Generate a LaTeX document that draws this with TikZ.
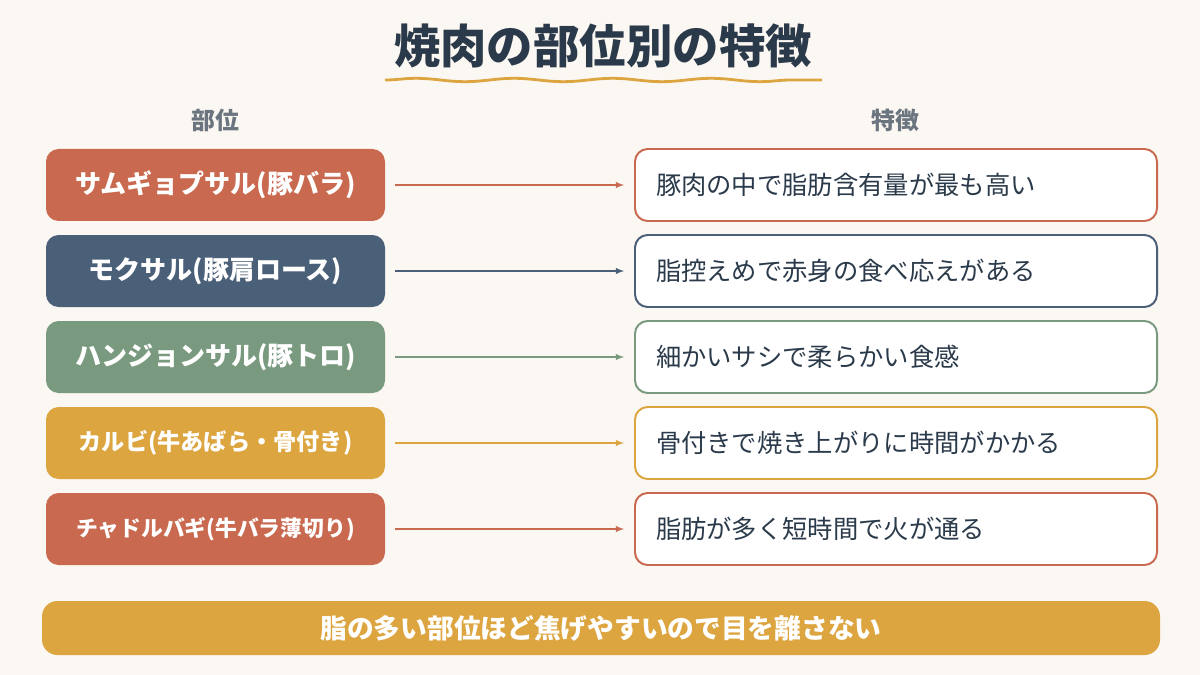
\documentclass[tikz,border=0pt]{standalone}
\usepackage{fontspec}
\setmainfont{Noto Sans CJK JP}
\usetikzlibrary{decorations.pathmorphing}
\definecolor{bgc}{HTML}{FBF7F2}
\definecolor{navy}{HTML}{2B3A4A}
\definecolor{graytx}{HTML}{6B7580}
\definecolor{rust}{HTML}{C96A50}
\definecolor{slate}{HTML}{4A5F78}
\definecolor{sage}{HTML}{7A9A80}
\definecolor{mustard}{HTML}{DDA540}
\tikzset{
	part/.style={rounded corners=9pt, minimum width=339*0.025cm, minimum height=72*0.025cm, text=white, font=\bfseries\fontsize{18.5}{22}\selectfont},
	feat/.style={draw=#1, line width=1.4pt, fill=white, rounded corners=9pt, minimum width=522*0.025cm, minimum height=72*0.025cm, text width=480*0.025cm, align=left, text=navy, font=\fontsize{18}{21}\selectfont},
	link/.style={draw=#1, line width=1pt, -latex}
}
\begin{document}
\begin{tikzpicture}[x=0.025cm, y=-0.025cm]
	\fill[bgc] (0,0) rectangle (1200,675);

	\node[text=navy, font=\bfseries\fontsize{33}{38}\selectfont] (title) at (603,46) {焼肉の部位別の特徴};
	\coordinate (u1) at (385,80);
	\coordinate (u2) at (822,80);
	\draw[mustard, line width=2pt, decorate, decoration={snake, amplitude=1.2pt, segment length=70pt}] (u1) -- (u2);

	\node[text=graytx, font=\bfseries\fontsize{17}{20}\selectfont] (h1) at (215,120) {部位};
	\node[text=graytx, font=\bfseries\fontsize{17}{20}\selectfont] (h2) at (895,120) {特徴};

	\node[part, fill=rust] (p1) at (215.5,185) {サムギョプサル(豚バラ)};
	\node[part, fill=slate] (p2) at (215.5,271) {モクサル(豚肩ロース)};
	\node[part, fill=sage] (p3) at (215.5,357) {ハンジョンサル(豚トロ)};
	\node[part, fill=mustard, font=\bfseries\fontsize{16.5}{20}\selectfont] (p4) at (215.5,443) {カルビ(牛あばら・骨付き)};
	\node[part, fill=rust, font=\bfseries\fontsize{15.5}{19}\selectfont] (p5) at (215.5,529) {チャドルバギ(牛バラ薄切り)};

	\node[feat=rust] (f1) at (896,185) {豚肉の中で脂肪含有量が最も高い};
	\node[feat=slate] (f2) at (896,271) {脂控えめで赤身の食べ応えがある};
	\node[feat=sage] (f3) at (896,357) {細かいサシで柔らかい食感};
	\node[feat=mustard] (f4) at (896,443) {骨付きで焼き上がりに時間がかかる};
	\node[feat=rust] (f5) at (896,529) {脂肪が多く短時間で火が通る};

	\draw[link=rust] ([xshift=0.25cm]p1.east) -- ([xshift=-0.25cm]f1.west);
	\draw[link=slate] ([xshift=0.25cm]p2.east) -- ([xshift=-0.25cm]f2.west);
	\draw[link=sage] ([xshift=0.25cm]p3.east) -- ([xshift=-0.25cm]f3.west);
	\draw[link=mustard] ([xshift=0.25cm]p4.east) -- ([xshift=-0.25cm]f4.west);
	\draw[link=rust] ([xshift=0.25cm]p5.east) -- ([xshift=-0.25cm]f5.west);

	\node[fill=mustard, rounded corners=11pt, minimum width=1118*0.025cm, minimum height=54*0.025cm, text=white, font=\bfseries\fontsize{19}{22}\selectfont] (tip) at (601,628) {脂の多い部位ほど焦げやすいので目を離さない};
\end{tikzpicture}
\end{document}
